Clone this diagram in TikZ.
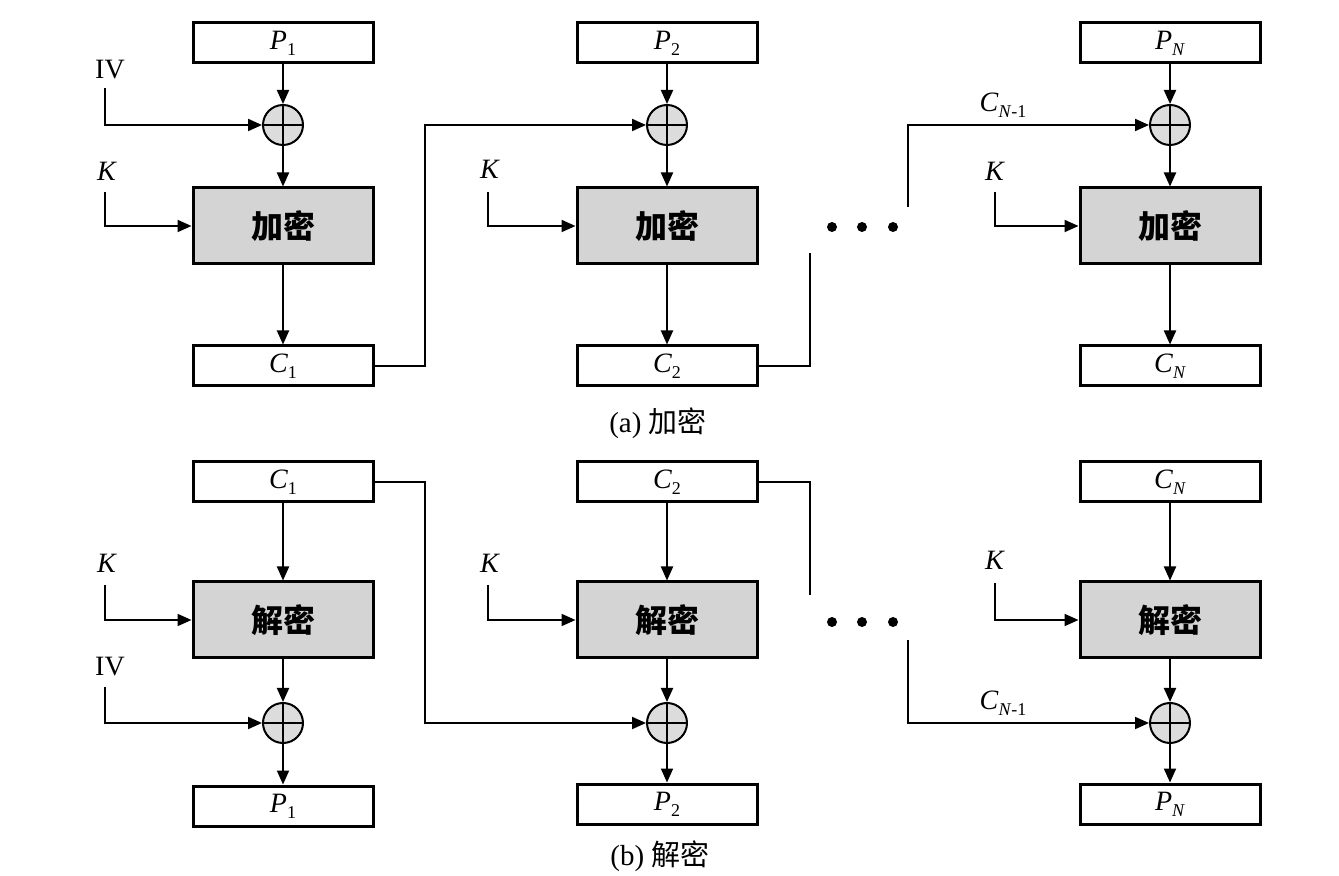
\documentclass[tikz,border=0pt]{standalone}
\usepackage{fontspec}
\setmainfont{Liberation Serif}
\newfontfamily\cjk{Noto Sans CJK SC}
\usetikzlibrary{arrows.meta}
\definecolor{boxgray}{RGB}{212,212,212}
\definecolor{xorgray}{RGB}{220,220,220}
\newcommand{\lab}[2]{\textit{#1}\raisebox{-0.45ex}{\fontsize{9}{9}\selectfont #2}}
\tikzset{
 wbox/.style={draw, line width=1.5pt, minimum width=90pt, minimum height=20pt, inner sep=0pt, font=\fontsize{14}{14}\selectfont},
 gbox/.style={draw, line width=1.5pt, fill=boxgray, minimum width=90pt, minimum height=38pt, inner sep=0pt, font=\cjk\bfseries\fontsize{16}{16}\selectfont},
 xor/.style={circle, draw, line width=1pt, fill=xorgray, minimum size=20pt, inner sep=0pt,
   path picture={\draw[line width=1pt] (path picture bounding box.north) -- (path picture bounding box.south)
     (path picture bounding box.west) -- (path picture bounding box.east);}},
 arr/.style={line width=1pt, -{Triangle[length=7pt,width=6pt]}},
 ln/.style={line width=1pt},
 lbl/.style={font=\fontsize{14}{14}\selectfont, inner sep=0pt},
 captxt/.style={font=\fontsize{14.5}{14.5}\selectfont, inner sep=0pt},
 dotc/.style={circle, fill=black, inner sep=0pt, minimum size=5pt},
}
\begin{document}
\begin{tikzpicture}[x=0.5pt, y=-0.5pt]
\useasboundingbox (0,0) rectangle (1339,876);
% ---------------- (a) encryption ----------------
\node[wbox] (P1) at (283,43) {\lab{P}{1}};
\node[xor]  (X1) at (283,125) {};
\node[gbox] (E1) at (283,226) {加密};
\node[wbox] (C1) at (283,366) {\lab{C}{1}};

\node[wbox] (P2) at (667,43) {\lab{P}{2}};
\node[xor]  (X2) at (667,125) {};
\node[gbox] (E2) at (667,226) {加密};
\node[wbox] (C2) at (667,366) {\lab{C}{2}};

\node[wbox] (PN) at (1170,43) {\lab{P}{\textit{N}}};
\node[xor]  (XN) at (1170,125) {};
\node[gbox] (EN) at (1170,226) {加密};
\node[wbox] (CN) at (1170,366) {\lab{C}{\textit{N}}};

\draw[arr] (P1) -- (X1);
\draw[arr] (X1) -- (E1);
\draw[arr] (E1) -- (C1);
\draw[arr] (P2) -- (X2);
\draw[arr] (X2) -- (E2);
\draw[arr] (E2) -- (C2);
\draw[arr] (PN) -- (XN);
\draw[arr] (XN) -- (EN);
\draw[arr] (EN) -- (CN);

\node[lbl] (IVa) at (110,70) {IV};
\coordinate (ivA) at (105,88);
\draw[arr] (ivA) |- (X1.west);
\node[lbl] (Ka1) at (107,171) {\textit{K}};
\coordinate (kA1) at (105,192);
\draw[arr] (kA1) |- (E1.west);
\node[lbl] (Ka2) at (490,169) {\textit{K}};
\coordinate (kA2) at (488,192);
\draw[arr] (kA2) |- (E2.west);
\node[lbl] (Ka3) at (995,171) {\textit{K}};
\coordinate (kA3) at (995,192);
\draw[arr] (kA3) |- (EN.west);

\coordinate (jA1) at (425,366);
\draw[arr] (C1.east) -- (jA1) |- (X2.west);
\coordinate (jA2) at (810,366);
\coordinate (jA2e) at (810,253);
\draw[ln] (C2.east) -- (jA2) -- (jA2e);
\coordinate (jA3) at (908,207);
\draw[arr] (jA3) |- (XN.west);
\node[lbl] (CNm1a) at (1003,105) {\lab{C}{\textit{N}-1}};

\node[dotc] (da1) at (832,227) {};
\node[dotc] (da2) at (862,227) {};
\node[dotc] (da3) at (893,227) {};

\node[captxt] (capA) at (658,423) {(a) {\cjk 加密}};

% ---------------- (b) decryption ----------------
\node[wbox] (Cb1) at (283,482) {\lab{C}{1}};
\node[gbox] (D1)  at (283,620) {解密};
\node[xor]  (Xb1) at (283,723) {};
\node[wbox] (Pb1) at (283,806) {\lab{P}{1}};

\node[wbox] (Cb2) at (667,482) {\lab{C}{2}};
\node[gbox] (D2)  at (667,620) {解密};
\node[xor]  (Xb2) at (667,723) {};
\node[wbox] (Pb2) at (667,804) {\lab{P}{2}};

\node[wbox] (CbN) at (1170,482) {\lab{C}{\textit{N}}};
\node[gbox] (DN)  at (1170,620) {解密};
\node[xor]  (XbN) at (1170,723) {};
\node[wbox] (PbN) at (1170,804) {\lab{P}{\textit{N}}};

\draw[arr] (Cb1) -- (D1);
\draw[arr] (D1) -- (Xb1);
\draw[arr] (Xb1) -- (Pb1);
\draw[arr] (Cb2) -- (D2);
\draw[arr] (D2) -- (Xb2);
\draw[arr] (Xb2) -- (Pb2);
\draw[arr] (CbN) -- (DN);
\draw[arr] (DN) -- (XbN);
\draw[arr] (XbN) -- (PbN);

\node[lbl] (Kb1) at (107,563) {\textit{K}};
\coordinate (kB1) at (105,585);
\draw[arr] (kB1) |- (D1.west);
\node[lbl] (Kb2) at (490,563) {\textit{K}};
\coordinate (kB2) at (488,585);
\draw[arr] (kB2) |- (D2.west);
\node[lbl] (Kb3) at (995,560) {\textit{K}};
\coordinate (kB3) at (995,583);
\draw[arr] (kB3) |- (DN.west);

\node[lbl] (IVb) at (110,667) {IV};
\coordinate (ivB) at (105,687);
\draw[arr] (ivB) |- (Xb1.west);

\coordinate (jB1) at (425,482);
\draw[arr] (Cb1.east) -- (jB1) |- (Xb2.west);
\coordinate (jB2) at (810,482);
\coordinate (jB2e) at (810,595);
\draw[ln] (Cb2.east) -- (jB2) -- (jB2e);
\coordinate (jB3) at (908,640);
\draw[arr] (jB3) |- (XbN.west);
\node[lbl] (CNm1b) at (1003,703) {\lab{C}{\textit{N}-1}};

\node[dotc] (db1) at (832,622) {};
\node[dotc] (db2) at (862,622) {};
\node[dotc] (db3) at (893,622) {};

\node[captxt] (capB) at (660,856) {(b) {\cjk 解密}};
\end{tikzpicture}
\end{document}
